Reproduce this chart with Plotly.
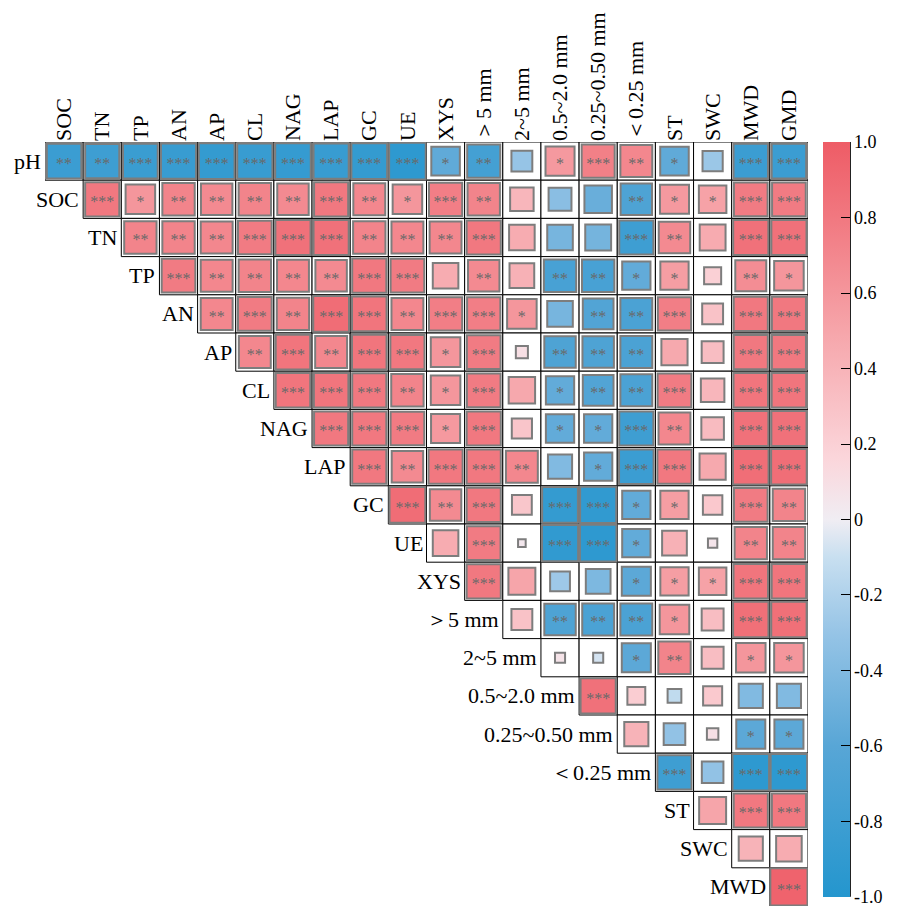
import numpy as np
import plotly.graph_objects as go
from plotly.colors import sample_colorscale

# ---------------- data ----------------
labels = ['pH', 'SOC', 'TN', 'TP', 'AN', 'AP', 'CL', 'NAG', 'LAP', 'GC', 'UE', 'XYS',
          '＞5 mm', '2~5 mm', '0.5~2.0 mm', '0.25~0.50 mm', '＜0.25 mm', 'ST', 'SWC', 'MWD', 'GMD']
row_labels = labels[:-1]
col_labels = labels[1:]

# upper-triangle correlation coefficients, row i covers columns i..19
r_pH = [-0.82, -0.80, -0.83, -0.85, -0.88, -0.85, -0.87, -0.85, -0.88, -0.92, -0.56, -0.75, -0.30, 0.58, 0.75, 0.70, -0.56, -0.28, -0.82, -0.82]
r_SOC = [0.80, 0.60, 0.72, 0.68, 0.72, 0.68, 0.80, 0.70, 0.60, 0.76, 0.72, 0.38, -0.36, -0.52, -0.68, 0.58, 0.52, 0.78, 0.78]
r_TN = [0.72, 0.72, 0.70, 0.78, 0.85, 0.85, 0.72, 0.70, 0.70, 0.80, 0.45, -0.45, -0.46, -0.80, 0.68, 0.46, 0.85, 0.85]
r_TP = [0.78, 0.70, 0.72, 0.70, 0.68, 0.80, 0.78, 0.45, 0.68, 0.42, -0.72, -0.72, -0.55, 0.55, 0.20, 0.66, 0.60]
r_AN = [0.70, 0.78, 0.72, 0.88, 0.82, 0.70, 0.76, 0.76, 0.60, -0.45, -0.65, -0.70, 0.76, 0.30, 0.80, 0.80]
r_AP = [0.70, 0.82, 0.70, 0.82, 0.80, 0.60, 0.78, 0.10, -0.68, -0.68, -0.70, 0.47, 0.33, 0.80, 0.80]
r_CL = [0.82, 0.82, 0.80, 0.72, 0.60, 0.78, 0.48, -0.55, -0.65, -0.70, 0.78, 0.38, 0.82, 0.82]
r_NAG = [0.80, 0.80, 0.78, 0.58, 0.80, 0.28, -0.55, -0.55, -0.80, 0.70, 0.35, 0.85, 0.85]
r_LAP = [0.80, 0.68, 0.80, 0.80, 0.70, -0.40, -0.55, -0.82, 0.80, 0.47, 0.87, 0.87]
r_GC = [0.88, 0.68, 0.80, 0.27, -0.88, -0.90, -0.55, 0.55, 0.26, 0.78, 0.72]
r_UE = [0.45, 0.78, 0.04, -0.90, -0.92, -0.55, 0.42, 0.06, 0.72, 0.72]
r_XYS = [0.80, 0.50, -0.27, -0.42, -0.58, 0.55, 0.52, 0.82, 0.82]
r_gt5 = [0.30, -0.68, -0.70, -0.70, 0.60, 0.33, 0.86, 0.86]
r_2_5 = [0.07, -0.07, -0.58, 0.72, 0.33, 0.60, 0.60]
r_05_2 = [0.85, 0.22, -0.13, 0.25, -0.40, -0.40]
r_025_05 = [0.40, -0.32, 0.09, -0.58, -0.58]
r_lt025 = [-0.80, -0.32, -0.92, -0.92]
r_ST = [0.50, 0.80, 0.80]
r_SWC = [0.40, 0.45]
r_MWD = [0.95]

s_pH = ['**', '**', '***', '***', '***', '***', '***', '***', '***', '***', '*', '**', '', '*', '***', '**', '*', '', '***', '***']
s_SOC = ['***', '*', '**', '**', '**', '**', '***', '**', '*', '***', '**', '', '', '', '**', '*', '*', '***', '***']
s_TN = ['**', '**', '**', '***', '***', '***', '**', '**', '**', '***', '', '', '', '***', '**', '', '***', '***']
s_TP = ['***', '**', '**', '**', '**', '***', '***', '', '**', '', '**', '**', '*', '*', '', '**', '*']
s_AN = ['**', '***', '**', '***', '***', '**', '***', '***', '*', '', '**', '**', '***', '', '***', '***']
s_AP = ['**', '***', '**', '***', '***', '*', '***', '', '**', '**', '**', '', '', '***', '***']
s_CL = ['***', '***', '***', '**', '*', '***', '', '*', '**', '**', '***', '', '***', '***']
s_NAG = ['***', '***', '***', '*', '***', '', '*', '*', '***', '**', '', '***', '***']
s_LAP = ['***', '**', '***', '***', '**', '', '*', '***', '***', '', '***', '***']
s_GC = ['***', '**', '***', '', '***', '***', '*', '*', '', '***', '**']
s_UE = ['', '***', '', '***', '***', '*', '', '', '**', '**']
s_XYS = ['***', '', '', '', '*', '*', '*', '***', '***']
s_gt5 = ['', '**', '**', '**', '*', '', '***', '***']
s_2_5 = ['', '', '*', '**', '', '*', '*']
s_05_2 = ['***', '', '', '', '', '']
s_025_05 = ['', '', '', '*', '*']
s_lt025 = ['***', '', '***', '***']
s_ST = ['', '***', '***']
s_SWC = ['', '']
s_MWD = ['***']

r_rows = [r_pH, r_SOC, r_TN, r_TP, r_AN, r_AP, r_CL, r_NAG, r_LAP, r_GC, r_UE, r_XYS,
          r_gt5, r_2_5, r_05_2, r_025_05, r_lt025, r_ST, r_SWC, r_MWD]
s_rows = [s_pH, s_SOC, s_TN, s_TP, s_AN, s_AP, s_CL, s_NAG, s_LAP, s_GC, s_UE, s_XYS,
          s_gt5, s_2_5, s_05_2, s_025_05, s_lt025, s_ST, s_SWC, s_MWD]

cbar_vals = [-1.0, -0.8, -0.6, -0.4, -0.2, 0.0, 0.2, 0.4, 0.6, 0.8, 1.0]
cbar_text = ['-1.0', '-0.8', '-0.6', '-0.4', '-0.2', '0', '0.2', '0.4', '0.6', '0.8', '1.0']

# ---------------- style ----------------
colorscale = [
    [0.00, 'rgb(36,150,206)'],
    [0.20, 'rgb(88,166,214)'],
    [0.35, 'rgb(150,196,230)'],
    [0.45, 'rgb(200,223,240)'],
    [0.50, 'rgb(240,237,243)'],
    [0.58, 'rgb(251,214,219)'],
    [0.75, 'rgb(246,165,170)'],
    [0.90, 'rgb(241,120,128)'],
    [1.00, 'rgb(238,92,102)'],
]
FONT = 'Liberation Serif'
CB_LEN = 0.988

n = len(col_labels)
shapes = []
xs, ys, vals, stars = [], [], [], []
for i, (rr, ss) in enumerate(zip(r_rows, s_rows)):
    for k, (r, s) in enumerate(zip(rr, ss)):
        j = i + k
        xs.append(j); ys.append(i); vals.append(r); stars.append(s)

# cell backgrounds
for x, y in zip(xs, ys):
    shapes.append(dict(type='rect', xref='x', yref='y', x0=x - 0.5, x1=x + 0.5,
                       y0=y - 0.5, y1=y + 0.5, fillcolor='white',
                       line=dict(color='black', width=1), layer='below'))
# coloured squares
fills = sample_colorscale(colorscale, [(v + 1) / 2 for v in vals])
for x, y, v, c in zip(xs, ys, vals, fills):
    h = min(np.sqrt(abs(v)), 1.0) / 2
    shapes.append(dict(type='rect', xref='x', yref='y', x0=x - h, x1=x + h,
                       y0=y - h, y1=y + h, fillcolor=c,
                       line=dict(color='rgb(125,125,125)', width=2), layer='below'))

# colorbar right-edge axis line
shapes.append(dict(type='line', xref='paper', yref='paper', x0=1.0552, x1=1.0552,
                   y0=1 - CB_LEN, y1=1, line=dict(color='black', width=1.5)))

fig = go.Figure()
# star labels + colour bar carrier
fig.add_trace(go.Scatter(
    x=xs, y=[y + 0.1 for y in ys], mode='text', text=stars,
    textfont=dict(family=FONT, size=16, color='rgb(105,105,105)'),
    hoverinfo='skip', showlegend=False))
fig.add_trace(go.Scatter(
    x=xs, y=ys, mode='markers', hoverinfo='skip', showlegend=False,
    marker=dict(size=0.1, opacity=0, color=vals, colorscale=colorscale, cmin=-1.0001, cmax=1.0001,
                showscale=True,
                colorbar=dict(x=1.0197, xanchor='left', xpad=0, y=1, yanchor='top',
                              ypad=0, len=CB_LEN, lenmode='fraction', thickness=27,
                              outlinewidth=0, ticks='inside', ticklen=9, tickwidth=1.2,
                              tickcolor='black', tickvals=cbar_vals, ticktext=cbar_text,
                              ticklabeloverflow='allow',
                              tickfont=dict(family=FONT, size=18, color='black')))))

annotations = []
for i, lab in enumerate(row_labels):
    annotations.append(dict(x=i - 0.5, y=i, xref='x', yref='y', text=lab,
                            showarrow=False, xanchor='right', yanchor='middle', xshift=-2,
                            font=dict(family=FONT, size=22, color='black')))

fig.update_layout(
    width=907, height=914,
    font=dict(family=FONT, color='black'),
    margin=dict(l=45, r=99, t=142, b=8, autoexpand=False),
    plot_bgcolor='white', paper_bgcolor='white',
    shapes=shapes, annotations=annotations,
    xaxis=dict(range=[-0.5, n - 0.5], side='top', tickmode='array',
               tickvals=list(range(n)), ticktext=col_labels, tickangle=-90,
               showgrid=False, zeroline=False, showline=False, ticks='',
               automargin=False,
               tickfont=dict(family=FONT, size=22, color='black'), fixedrange=True),
    yaxis=dict(range=[n - 0.5, -0.5], showticklabels=False, showgrid=False,
               zeroline=False, showline=False, ticks='', fixedrange=True, automargin=False),
)

fig.write_html('out.html', config={'displayModeBar': False},
               post_script="document.body.style.margin='0';document.body.style.overflow='hidden';")
